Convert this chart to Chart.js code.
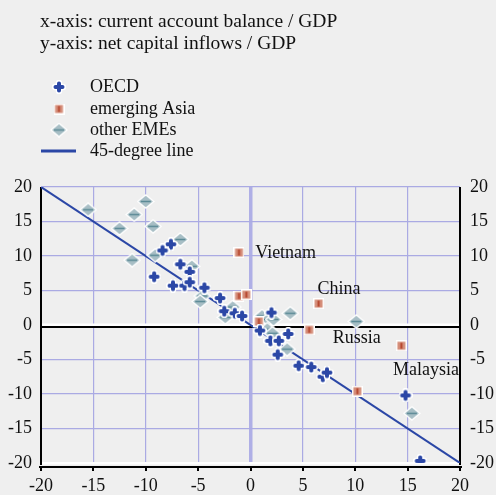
<!DOCTYPE html>
<html>
<head>
<meta charset="utf-8">
<script src="https://cdn.jsdelivr.net/npm/chart.js@4/dist/chart.umd.min.js"></script>
<style>
html,body{margin:0;padding:0;background:#efefef;}
#wrap{position:relative;width:496px;height:495px;}
</style>
</head>
<body>
<div id="wrap"><canvas id="c" width="496" height="495"></canvas></div>
<script>
// ---- data ----
const headerLines = ["x-axis: current account balance / GDP", "y-axis: net capital inflows / GDP"];
const seriesNames = ["OECD", "emerging Asia", "other EMEs", "45-degree line"];
const oecd = [[-7.6,11.7],[-8.4,10.8],[-9.2,7.0],[-6.7,8.8],[-5.8,7.7],[-7.4,5.7],[-6.3,5.7],[-5.8,6.2],[-4.4,5.4],[-2.9,3.9],[-2.5,2.0],[-1.5,1.7],[-0.8,1.3],[0.9,-0.8],[2.0,1.8],[3.6,-1.3],[1.9,-2.3],[2.7,-2.3],[2.6,-4.3],[4.6,-5.9],[5.8,-6.1],[6.9,-7.5],[7.3,-6.9],[14.8,-10.2],[16.2,-19.7]];
const emergingAsia = [[-1.1,10.5],[-1.1,4.2],[-0.4,4.4],[0.8,0.5],[6.5,3.1],[5.6,-0.7],[14.4,-3.0],[10.2,-9.6]];
const otherEMEs = [[-15.5,16.7],[-11.1,16.0],[-10.0,17.9],[-12.5,14.0],[-9.3,14.3],[-6.7,12.4],[-11.3,9.4],[-9.1,10.1],[-5.6,8.5],[-4.6,4.2],[-4.8,3.4],[-1.7,2.6],[-2.4,1.1],[1.1,1.3],[1.7,0.8],[2.2,0.8],[3.8,1.7],[1.6,-0.6],[2.1,-1.2],[3.5,-3.5],[10.1,0.5],[15.4,-12.8]];
const line45 = [[-20,20],[20,-20]];
const countryLabels = [["Vietnam",0.45,10.4],["China",6.4,5.2],["Russia",7.85,-1.9],["Malaysia",13.6,-6.5]];
const axisMin = -20, axisMax = 20, axisStep = 5;

const toXY = a => a.map(p => ({x:p[0], y:p[1]}));
const SERIF = '"Liberation Serif", "Times New Roman", serif';
const BLUE = '#2b47a6';

// ---- marker images ----
function mk(w,h,fn){const c=document.createElement('canvas');c.width=w;c.height=h;fn(c.getContext('2d'));return c;}
const plusImg = mk(14,14,g=>{
  g.lineCap='round';
  g.strokeStyle='#ffffff';g.lineWidth=6.5;
  g.beginPath();g.moveTo(3,7);g.lineTo(11,7);g.moveTo(7,3);g.lineTo(7,11);g.stroke();
  g.strokeStyle=BLUE;g.lineWidth=4;
  g.beginPath();g.moveTo(3.5,7);g.lineTo(10.5,7);g.moveTo(7,3.5);g.lineTo(7,10.5);g.stroke();
});
const squareImg = mk(11,11,g=>{
  g.fillStyle='#ffffff';g.fillRect(0,0,11,11);
  g.fillStyle='#d58e7a';g.fillRect(1.5,1.5,8,8);
  g.fillStyle='#b5452c';g.fillRect(4.5,2.5,2,6);
});
const diamondImg = mk(18,15,g=>{
  g.fillStyle='#ffffff';
  g.beginPath();g.moveTo(9,0);g.lineTo(18,7.5);g.lineTo(9,15);g.lineTo(0,7.5);g.closePath();g.fill();
  g.fillStyle='#a7bec5';
  g.beginPath();g.moveTo(9,1.7);g.lineTo(16,7.5);g.lineTo(9,13.3);g.lineTo(2,7.5);g.closePath();g.fill();
  g.strokeStyle='#5b8a96';g.lineWidth=1.5;
  g.beginPath();g.moveTo(4,7.5);g.lineTo(14,7.5);g.stroke();
});

const decor = {
  id:'decor',
  beforeDatasetsDraw(chart){
    const {ctx, chartArea:a, scales:{x,y}} = chart;
    ctx.save();
    const y0 = y.getPixelForValue(0);
    ctx.fillStyle='#ffffff'; ctx.fillRect(a.left, y0-1.5, a.right-a.left, 2.5);
    ctx.fillStyle='#000000'; ctx.fillRect(a.left, y0+1, a.right-a.left, 2);
    const yb = y.getPixelForValue(axisMin);
    ctx.fillStyle='#ffffff'; ctx.fillRect(a.left, yb-1, a.right-a.left, 2.5);
    ctx.fillStyle='#000000'; ctx.fillRect(a.left-2, yb+3, a.right-a.left+4, 2);
    for(let v=axisMin; v<=axisMax; v+=axisStep){
      const px = Math.round(x.getPixelForValue(v));
      ctx.fillRect(px-1, yb+3, 2, 5);
    }
    ctx.fillRect(Math.round(a.left)-1, a.top, 2, yb+2-a.top);
    ctx.fillRect(Math.round(a.right)-1, a.top, 2, yb+2-a.top);
    ctx.restore();
  },
  afterDraw(chart){
    const {ctx, scales:{x,y}} = chart;
    ctx.save();
    ctx.fillStyle='#111111';
    ctx.textBaseline='middle';
    ctx.textAlign='left';
    ctx.font='19.5px '+SERIF;
    ctx.fillText(headerLines[0], 40, 22);
    ctx.fillText(headerLines[1], 40, 44);
    ctx.font='18px '+SERIF;
    const ly=[87,109,130,151];
    ctx.drawImage(plusImg, 59-7, ly[0]-7);
    ctx.drawImage(squareImg, 59-5.5, ly[1]-5.5);
    ctx.drawImage(diamondImg, 59-9, ly[2]-7.5);
    ctx.fillStyle=BLUE; ctx.fillRect(41, ly[3]-1.5, 35, 3);
    ctx.fillStyle='#111111';
    for(let i=0;i<4;i++) ctx.fillText(seriesNames[i], 90, ly[i]);
    for(const [t,vx,vy] of countryLabels){
      ctx.fillText(t, x.getPixelForValue(vx), y.getPixelForValue(vy));
    }
    ctx.restore();
  }
};

const gridColor = '#aaaae3';
new Chart(document.getElementById('c'), {
  type:'scatter',
  data:{datasets:[
    {label:seriesNames[0], data:toXY(oecd), pointStyle:plusImg, order:1},
    {label:seriesNames[1], data:toXY(emergingAsia), pointStyle:squareImg, order:2},
    {label:seriesNames[2], data:toXY(otherEMEs), pointStyle:diamondImg, order:3},
    {label:seriesNames[3], type:'line', data:toXY(line45), showLine:true, borderColor:BLUE, borderWidth:2, pointRadius:0, fill:false, order:4}
  ]},
  options:{
    responsive:false, animation:false, devicePixelRatio:1,
    layout:{padding:{top:187,left:0,right:0,bottom:0}},
    plugins:{legend:{display:false}, title:{display:false}, tooltip:{enabled:false}},
    scales:{
      x:{type:'linear', min:axisMin, max:axisMax,
        afterFit(s){s.height=32;},
        border:{display:false},
        grid:{drawTicks:false,
          color:c=> (c.tick && (c.tick.value===axisMin||c.tick.value===axisMax)) ? 'rgba(0,0,0,0)' : (c.tick && c.tick.value===0 ? '#afafe6' : gridColor),
          lineWidth:c=> (c.tick && c.tick.value===0) ? 3.5 : 1.2},
        ticks:{stepSize:axisStep, padding:12, color:'#111111', font:{family:SERIF, size:18}, maxRotation:0}
      },
      y:{type:'linear', position:'left', min:axisMin, max:axisMax,
        afterFit(s){s.width=41;},
        border:{display:false},
        grid:{drawTicks:false,
          color:c=> (c.tick && (c.tick.value===0||c.tick.value===axisMin)) ? 'rgba(0,0,0,0)' : gridColor,
          lineWidth:1.2},
        ticks:{stepSize:axisStep, padding:9, color:'#111111', font:{family:SERIF, size:18}}
      },
      y2:{type:'linear', position:'right', min:axisMin, max:axisMax,
        afterFit(s){s.width=36;},
        border:{display:false},
        grid:{display:false, drawTicks:false},
        ticks:{stepSize:axisStep, padding:10, color:'#111111', font:{family:SERIF, size:18}}
      }
    }
  },
  plugins:[decor]
});
</script>
</body>
</html>
